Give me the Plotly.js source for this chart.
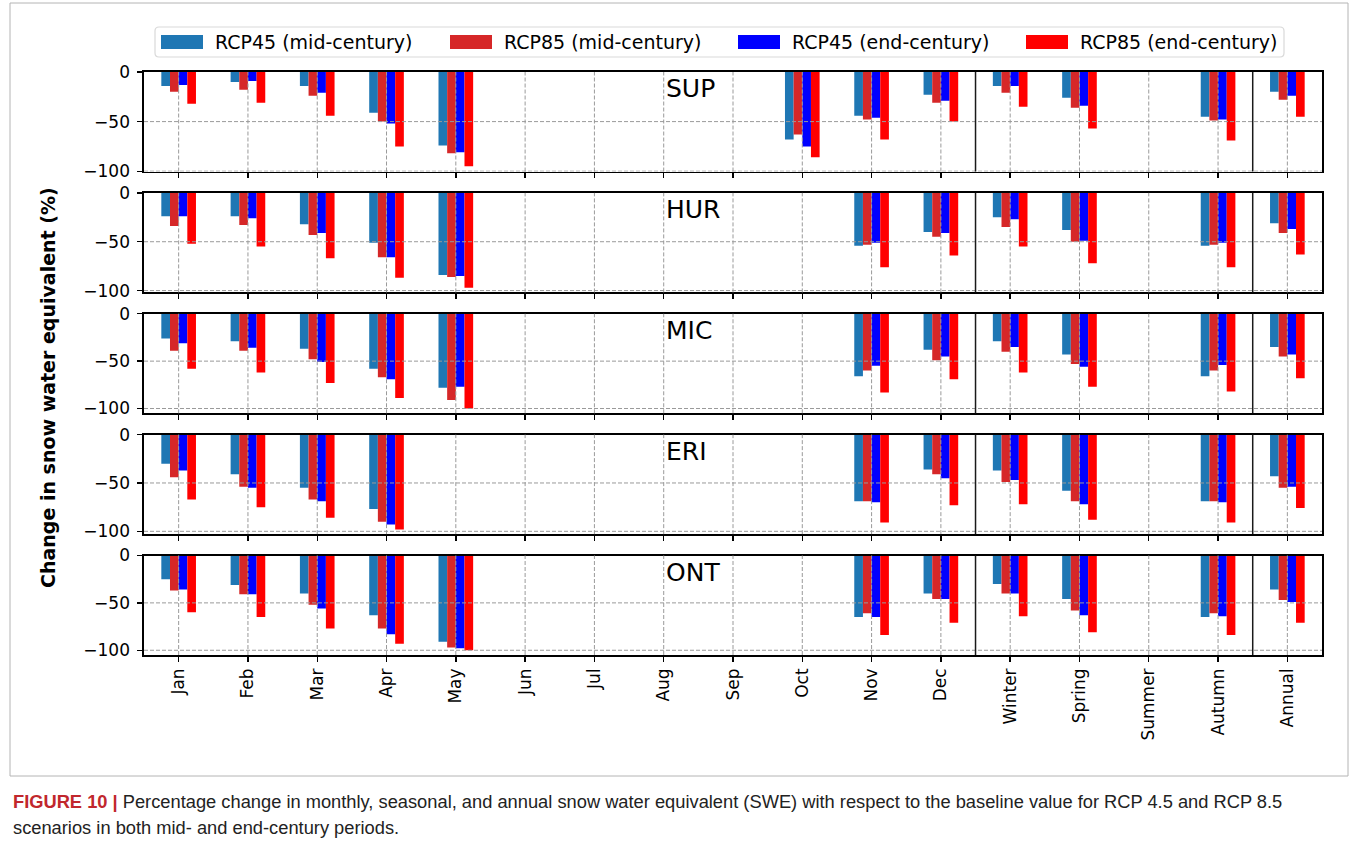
<!DOCTYPE html>
<html>
<head>
<meta charset="utf-8">
<script src="https://cdn.plot.ly/plotly-3.0.1.min.js"></script>
<style>
  html, body { margin: 0; padding: 0; background: #ffffff; }
  #chart { width: 1358px; height: 845px; }
</style>
</head>
<body>
<div id="chart"></div>
<script>
// Categories on the shared x axis: months, seasons and the annual mean
const categories = ['Jan', 'Feb', 'Mar', 'Apr', 'May', 'Jun', 'Jul', 'Aug', 'Sep', 'Oct', 'Nov', 'Dec',
                    'Winter', 'Spring', 'Summer', 'Autumn', 'Annual'];
const seriesNames = ['RCP45 (mid-century)', 'RCP85 (mid-century)', 'RCP45 (end-century)', 'RCP85 (end-century)'];
const lakes = ['SUP', 'HUR', 'MIC', 'ERI', 'ONT'];
const yTicks = [0, -50, -100];

// Percentage change in SWE (null = no snow in that period)
//                 Jan  Feb  Mar  Apr  May  Jun   Jul   Aug   Sep   Oct   Nov  Dec  Win  Spr  Sum   Aut  Ann
const SUP_rcp45_mid = [-14, -10, -14, -41, -74, null, null, null, null, -68, -44, -23, -14, -26, null, -45, -20];
const SUP_rcp85_mid = [-20, -18, -24, -50, -82, null, null, null, null, -63, -48, -31, -21, -36, null, -49, -28];
const SUP_rcp45_end = [-13, -9, -21, -52, -81, null, null, null, null, -75, -46, -29, -14, -34, null, -48, -24];
const SUP_rcp85_end = [-32, -31, -44, -75, -95, null, null, null, null, -86, -68, -50, -35, -57, null, -69, -45];

const HUR_rcp45_mid = [-24, -24, -32, -51, -84, null, null, null, null, null, -54, -40, -25, -38, null, -54, -31];
const HUR_rcp85_mid = [-34, -33, -43, -66, -86, null, null, null, null, null, -53, -45, -35, -50, null, -53, -41];
const HUR_rcp45_end = [-24, -26, -41, -66, -85, null, null, null, null, null, -51, -41, -27, -49, null, -51, -37];
const HUR_rcp85_end = [-52, -55, -67, -87, -97, null, null, null, null, null, -76, -64, -55, -72, null, -76, -63];

const MIC_rcp45_mid = [-26, -29, -37, -58, -78, null, null, null, null, null, -66, -38, -29, -43, null, -66, -35];
const MIC_rcp85_mid = [-39, -39, -48, -67, -91, null, null, null, null, null, -60, -49, -40, -53, null, -60, -45];
const MIC_rcp45_end = [-31, -36, -51, -69, -77, null, null, null, null, null, -55, -45, -35, -56, null, -54, -43];
const MIC_rcp85_end = [-58, -62, -73, -89, -100, null, null, null, null, null, -83, -69, -62, -77, null, -82, -68];

const ERI_rcp45_mid = [-30, -41, -55, -77, null, null, null, null, null, null, -69, -36, -37, -58, null, -69, -43];
const ERI_rcp85_mid = [-44, -54, -67, -90, null, null, null, null, null, null, -69, -41, -49, -69, null, -69, -55];
const ERI_rcp45_end = [-37, -55, -69, -93, null, null, null, null, null, null, -70, -45, -47, -72, null, -70, -54];
const ERI_rcp85_end = [-67, -75, -86, -98, null, null, null, null, null, null, -91, -73, -72, -88, null, -91, -76];

const ONT_rcp45_mid = [-25, -31, -40, -63, -91, null, null, null, null, null, -65, -40, -30, -46, null, -65, -36];
const ONT_rcp85_mid = [-37, -41, -52, -77, -97, null, null, null, null, null, -61, -46, -40, -58, null, -61, -47];
const ONT_rcp45_end = [-36, -41, -56, -83, -98, null, null, null, null, null, -65, -46, -40, -63, null, -64, -49];
const ONT_rcp85_end = [-60, -65, -77, -93, -100, null, null, null, null, null, -84, -71, -64, -81, null, -84, -71];

const lakeSeries = {
  SUP: [SUP_rcp45_mid, SUP_rcp85_mid, SUP_rcp45_end, SUP_rcp85_end],
  HUR: [HUR_rcp45_mid, HUR_rcp85_mid, HUR_rcp45_end, HUR_rcp85_end],
  MIC: [MIC_rcp45_mid, MIC_rcp85_mid, MIC_rcp45_end, MIC_rcp85_end],
  ERI: [ERI_rcp45_mid, ERI_rcp85_mid, ERI_rcp45_end, ERI_rcp85_end],
  ONT: [ONT_rcp45_mid, ONT_rcp85_mid, ONT_rcp45_end, ONT_rcp85_end]
};

// ---- styling ----
const seriesColors = ['#1f77b4', '#d62728', '#0000ff', '#ff0000'];
const FONT = 'DejaVu Sans, sans-serif';
const GRID = { color: '#9a9a9a', width: 1, dash: '4px,2px' };

// page geometry in pixels
const W = 1358, H = 845;
const M = { l: 144, r: 36, t: 72, b: 190 };
const PW = W - M.l - M.r;
const PH = H - M.t - M.b;
const px = x => (x - M.l) / PW;
const py = y => (H - M.b - y) / PH;
const panelH = 99.5;
const panelStep = (PH - panelH) / (lakes.length - 1);

const axName = (kind, i) => kind + (i === 0 ? '' : String(i + 1));

const traces = [];
const layout = {
  width: W, height: H,
  margin: { l: M.l, r: M.r, t: M.t, b: M.b, pad: 0 },
  paper_bgcolor: '#ffffff',
  plot_bgcolor: '#ffffff',
  barmode: 'group',
  bargap: 0.5,
  bargroupgap: 0,
  showlegend: false,
  font: { family: FONT, size: 17, color: '#000000' },
  shapes: [],
  annotations: []
};

// thin frame around the figure block
layout.shapes.push({
  type: 'rect', xref: 'paper', yref: 'paper', layer: 'below',
  x0: px(10), x1: px(1348), y0: py(776), y1: py(3),
  line: { color: '#b4b4b4', width: 1 }, fillcolor: 'rgba(0,0,0,0)'
});

lakes.forEach((lake, i) => {
  const xa = axName('x', i), ya = axName('y', i);
  lakeSeries[lake].forEach((vals, k) => {
    traces.push({
      type: 'bar',
      x: categories,
      y: vals,
      name: seriesNames[k],
      xaxis: xa, yaxis: ya,
      marker: { color: seriesColors[k], line: { width: 0 } },
      showlegend: false,
      hoverinfo: 'x+y+name'
    });
  });

  const allVals = [].concat(...lakeSeries[lake]).filter(v => v !== null);
  const lo = Math.min(1.05 * Math.min(...allVals), -100.3);

  const top = 1 - (i * panelStep) / PH;
  const bottom = Math.max(0, top - panelH / PH);

  layout[axName('xaxis', i)] = {
    type: 'category',
    categoryorder: 'array',
    categoryarray: categories,
    range: [-0.5, categories.length - 0.5],
    anchor: ya,
    domain: [0, 1],
    showline: true, mirror: true, linecolor: '#000000', linewidth: 1.6,
    ticks: 'outside', ticklen: 5, tickwidth: 1.4, tickcolor: '#000000',
    showgrid: false, zeroline: false,
    showticklabels: i === lakes.length - 1,
    tickangle: -90,
    tickfont: { family: FONT, size: 17, color: '#000000' },
    fixedrange: true
  };
  layout[axName('yaxis', i)] = {
    anchor: xa,
    domain: [bottom, top],
    range: [lo, 0],
    tickmode: 'array',
    tickvals: yTicks,
    showline: true, mirror: true, linecolor: '#000000', linewidth: 1.6,
    ticks: 'outside', ticklen: 5, tickwidth: 1.4, tickcolor: '#000000',
    ticklabelstandoff: 4,
    showgrid: false, zeroline: false,
    tickfont: { family: FONT, size: 17, color: '#000000' },
    fixedrange: true
  };

  // dashed grid drawn over the bars
  categories.forEach(c => {
    layout.shapes.push({
      type: 'line', layer: 'above', xref: xa, yref: ya + ' domain',
      x0: c, x1: c, y0: 0, y1: 1, line: GRID
    });
  });
  yTicks.filter(v => v !== 0).forEach(v => {
    layout.shapes.push({
      type: 'line', layer: 'above', xref: xa + ' domain', yref: ya,
      x0: 0, x1: 1, y0: v, y1: v, line: GRID
    });
  });
  // separators: months | seasons | annual
  [11.5, 15.5].forEach(s => {
    layout.shapes.push({
      type: 'line', layer: 'above', xref: xa, yref: ya + ' domain',
      x0: s, x1: s, y0: 0, y1: 1, line: { color: '#1a1a1a', width: 1.5 }
    });
  });

  // lake label
  layout.annotations.push({
    xref: xa, yref: ya + ' domain',
    x: 'Aug', y: 0.83, xanchor: 'left', yanchor: 'middle',
    text: lake, showarrow: false,
    font: { family: FONT, size: 25, color: '#000000' }
  });
});

// y-axis title shared by all panels
layout.annotations.push({
  xref: 'paper', yref: 'paper',
  x: px(48), y: py(388), xanchor: 'center', yanchor: 'middle',
  text: '<b>Change in snow water equivalent (%)</b>', textangle: -90,
  showarrow: false, font: { family: FONT, size: 19, color: '#000000' }
});

// legend across the top
const legBox = { x0: 155, x1: 1284, y0: 27, y1: 57, r: 4 };
const rr = legBox.r;
layout.shapes.push({
  type: 'path', xref: 'paper', yref: 'paper', layer: 'above',
  path: [
    'M', px(legBox.x0 + rr), py(legBox.y0),
    'L', px(legBox.x1 - rr), py(legBox.y0),
    'Q', px(legBox.x1), py(legBox.y0), px(legBox.x1), py(legBox.y0 + rr),
    'L', px(legBox.x1), py(legBox.y1 - rr),
    'Q', px(legBox.x1), py(legBox.y1), px(legBox.x1 - rr), py(legBox.y1),
    'L', px(legBox.x0 + rr), py(legBox.y1),
    'Q', px(legBox.x0), py(legBox.y1), px(legBox.x0), py(legBox.y1 - rr),
    'L', px(legBox.x0), py(legBox.y0 + rr),
    'Q', px(legBox.x0), py(legBox.y0), px(legBox.x0 + rr), py(legBox.y0), 'Z'
  ].join(' ').replace(/ ([\d.-]+) ([\d.-]+)/g, ' $1,$2'),
  line: { color: '#d9d9d9', width: 1.2 },
  fillcolor: 'rgba(255,255,255,0.8)'
});
const legSwatchX = [161, 450, 738, 1026];
seriesNames.forEach((name, k) => {
  layout.shapes.push({
    type: 'rect', xref: 'paper', yref: 'paper', layer: 'above',
    x0: px(legSwatchX[k]), x1: px(legSwatchX[k] + 42),
    y0: py(49), y1: py(35),
    fillcolor: seriesColors[k], line: { width: 0 }
  });
  layout.annotations.push({
    xref: 'paper', yref: 'paper',
    x: px(legSwatchX[k] + 52), y: py(42), xanchor: 'left', yanchor: 'middle',
    text: name, showarrow: false,
    font: { family: FONT, size: 19, color: '#000000' }
  });
});

// caption below the figure
const CAP_FONT = 'Liberation Sans, Arial, sans-serif';
layout.annotations.push({
  xref: 'paper', yref: 'paper',
  x: px(11), y: py(801), xanchor: 'left', yanchor: 'middle',
  text: '<b><span style="color:#c1272d">FIGURE 10 |</span></b> Percentage change in monthly, seasonal, and annual snow water equivalent (SWE) with respect to the baseline value for RCP 4.5 and RCP 8.5',
  showarrow: false, font: { family: CAP_FONT, size: 18.3, color: '#222222' }
});
layout.annotations.push({
  xref: 'paper', yref: 'paper',
  x: px(11), y: py(827), xanchor: 'left', yanchor: 'middle',
  text: 'scenarios in both mid- and end-century periods.',
  showarrow: false, font: { family: CAP_FONT, size: 18.3, color: '#222222' }
});

Plotly.newPlot('chart', traces, layout, { staticPlot: true, displayModeBar: false });
</script>
</body>
</html>
